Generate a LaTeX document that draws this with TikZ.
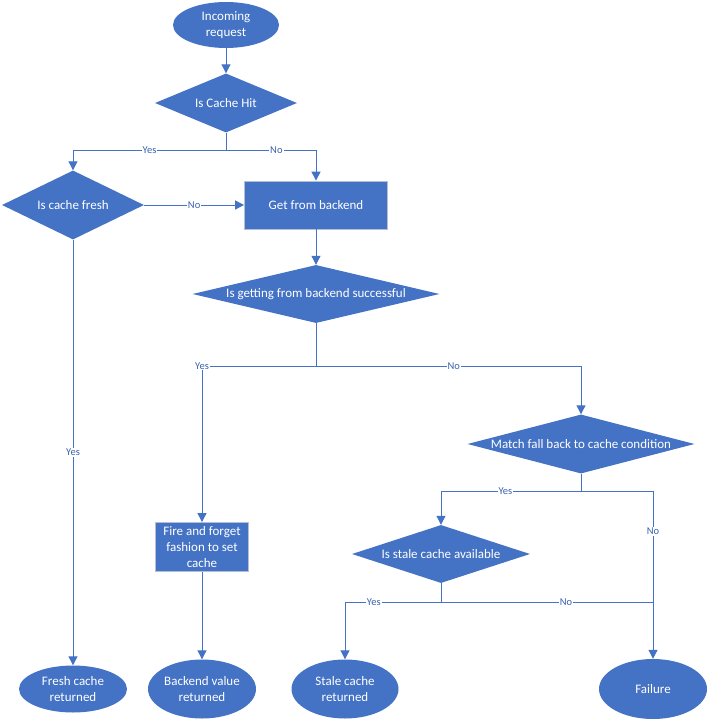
\documentclass[tikz,border=0pt]{standalone}
\usepackage{fontspec}
\setmainfont{Carlito}
\usepackage{tikz}
\usetikzlibrary{shapes.geometric, arrows.meta}
\definecolor{officeblue}{HTML}{4472C4}
\definecolor{labelblue}{HTML}{3A62B0}
\definecolor{boxedge}{HTML}{B4BED4}
\newcommand{\shapefont}{\fontsize{13}{16}\selectfont}
\newcommand{\labelfont}{\fontsize{10.5}{12}\selectfont}
\tikzstyle{startstop} = [ellipse, fill=officeblue, text=white, inner sep=0pt, align=center, font=\shapefont]
\tikzstyle{process} = [rectangle, fill=officeblue, draw=boxedge, line width=0.8pt, text=white, inner sep=0pt, align=center, font=\shapefont]
\tikzstyle{decision} = [diamond, fill=officeblue, text=white, inner sep=0pt, align=center, font=\shapefont]
\tikzstyle{line} = [officeblue, line width=1pt]
\tikzstyle{arrow} = [line, -{Triangle[width=9pt,length=9pt]}]
\tikzstyle{lbl} = [fill=white, text=labelblue, inner sep=1pt, font=\labelfont]

\begin{document}
\begin{tikzpicture}[x=1pt, y=-1pt]
        \useasboundingbox (0,0) rectangle (709,720);
        % Shapes
        \node (incoming) [startstop, minimum width=106pt, minimum height=46pt] at (226,25) {Incoming\\request};
        \node (cachehit) [decision, aspect=2.4, minimum width=142pt, minimum height=59pt] at (226,103) {Is Cache Hit};
        \node (fresh) [decision, aspect=2.06, minimum width=142pt, minimum height=69pt] at (73,205) {Is cache fresh};
        \node (backend) [process, minimum width=143pt, minimum height=48pt] at (316,205) {Get from backend};
        \node (success) [decision, aspect=4.26, minimum width=247pt, minimum height=58pt] at (316,294) {Is getting from backend successful};
        \node (fallback) [decision, aspect=3.85, minimum width=227pt, minimum height=59pt] at (581,444) {Match fall back to cache condition};
        \node (stale) [decision, aspect=3.07, minimum width=178pt, minimum height=58pt] at (441,554) {Is stale cache available};
        \node (fireforget) [process, minimum width=93pt, minimum height=49pt] at (202,547) {Fire and forget\\fashion to set\\cache};
        \node (freshret) [startstop, minimum width=108pt, minimum height=47pt] at (73,689) {Fresh cache\\returned};
        \node (backret) [startstop, minimum width=108pt, minimum height=59pt] at (202,689) {Backend value\\returned};
        \node (staleret) [startstop, minimum width=107pt, minimum height=59pt] at (345,689) {Stale cache\\returned};
        \node (failure) [startstop, minimum width=108pt, minimum height=60pt] at (653,689) {Failure};
        % Branch points
        \coordinate (hitsplit) at (226,150);
        \coordinate (oksplit) at (316,366);
        \coordinate (fbsplit) at (581,491);
        \coordinate (stalesplit) at (441,602);
        \coordinate (nojoin) at (653,602);
        % Connectors
        \draw [arrow] (incoming) -- (cachehit);
        \draw [arrow] (cachehit.south) -- (hitsplit) -| node[lbl, pos=0.25] {Yes} (fresh.north);
        \draw [arrow] (hitsplit) -| node[lbl, pos=0.28] {No} (backend.north);
        \draw [arrow] (fresh) -- node[lbl] {No} (backend);
        \draw [arrow] (fresh) -- node[lbl] {Yes} (freshret);
        \draw [arrow] (backend) -- (success);
        \draw [arrow] (success.south) -- (oksplit) -| node[lbl, pos=0.5] {Yes} (fireforget.north);
        \draw [arrow] (oksplit) -| node[lbl, pos=0.26] {No} (fallback.north);
        \draw [arrow] (fireforget) -- (backret);
        \draw [arrow] (fallback.south) -- (fbsplit) -| node[lbl, pos=0.27] {Yes} (stale.north);
        \draw [arrow] (fbsplit) -| node[lbl, pos=0.62] {No} (failure.north);
        \draw [arrow] (stale.south) -- (stalesplit) -| node[lbl, pos=0.35] {Yes} (staleret.north);
        \draw [line] (stalesplit) -- node[lbl, pos=0.59] {No} (nojoin);
\end{tikzpicture}
\end{document}
